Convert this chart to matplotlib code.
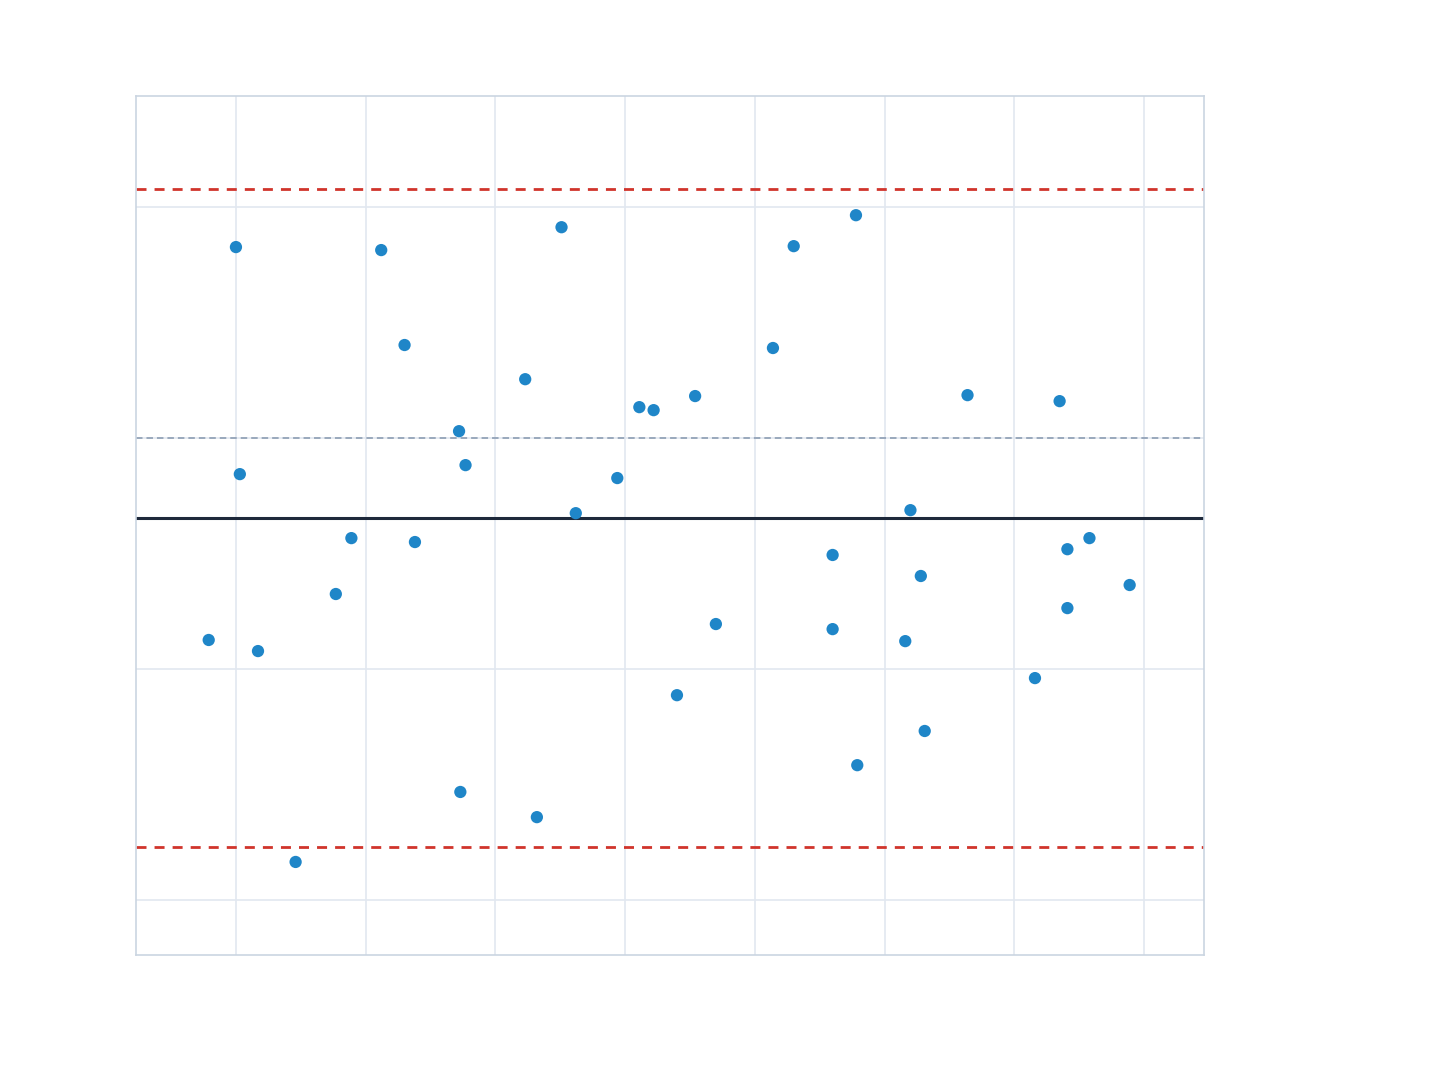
import matplotlib
matplotlib.use('Agg')
import matplotlib.pyplot as plt
import numpy as np

# Bland-Altman style data: mean of two methods vs. their difference
means = [10.0, 21.2, 35.1, 57.8, 53.0, 23.0, 51.4, 32.3, 41.1, 42.2,
         45.4, 66.4, 73.5, 27.2, 10.3, 27.7, 39.4, 36.2, 62.0, 18.9,
         23.8, 75.8, 74.1, 56.0, 62.8, 78.9, 17.7, 74.1, 47.0, 56.0,
         7.9, 61.6, 11.7, 71.6, 44.0, 63.1, 57.9, 27.3, 33.2, 14.6]
diffs = [8.27, 8.14, 9.13, 9.65, 8.31, 4.03, 3.90, 2.55, 1.34, 1.21,
         1.82, 1.86, 1.60, 0.30, -1.56, -1.17, -1.73, -3.25, -3.12, -4.33,
         -4.50, -4.33, -4.81, -5.06, -5.97, -6.36, -6.75, -7.36, -8.05, -8.27,
         -8.74, -8.79, -9.22, -10.39, -11.13, -12.68, -14.16, -15.32, -16.41, -18.35]

bias = -3.46
upper_loa = 10.78
lower_loa = -17.71
zero_ref = 0.0

x_ticks = [10, 20, 30, 40, 50, 60, 70, 80]
y_ticks = [-20, -10, 0, 10]


def main():
    fig = plt.figure(figsize=(14.4, 10.8), dpi=100)
    ax = fig.add_axes([0.0944, 0.1157, 0.7417, 0.7954])

    ax.set_xlim(2.29, 84.63)
    ax.set_ylim(-22.38, 14.81)
    ax.set_xticks(x_ticks)
    ax.set_yticks(y_ticks)
    ax.tick_params(length=0, labelbottom=False, labelleft=False)
    ax.grid(True, color='#e2e8f0', linewidth=1.2)
    ax.set_axisbelow(True)
    for s in ax.spines.values():
        s.set_color('#cbd5e1')
        s.set_linewidth(1.2)

    ax.axhline(zero_ref, color='#94a3b8', lw=1.3, linestyle=(0, (3.6, 2.2)), zorder=2)
    ax.axhline(bias, color='#1e293b', lw=2.2, zorder=2)
    ax.axhline(upper_loa, color='#d0342c', lw=2.0, linestyle=(0, (3.6, 2.9)), zorder=2)
    ax.axhline(lower_loa, color='#d0342c', lw=2.0, linestyle=(0, (3.6, 2.9)), zorder=2)

    ax.scatter(means, diffs, s=78, color='#1f86c8', edgecolors='none', zorder=3)

    fig.savefig('out.png', dpi=100, facecolor='white')


if __name__ == '__main__':
    main()
